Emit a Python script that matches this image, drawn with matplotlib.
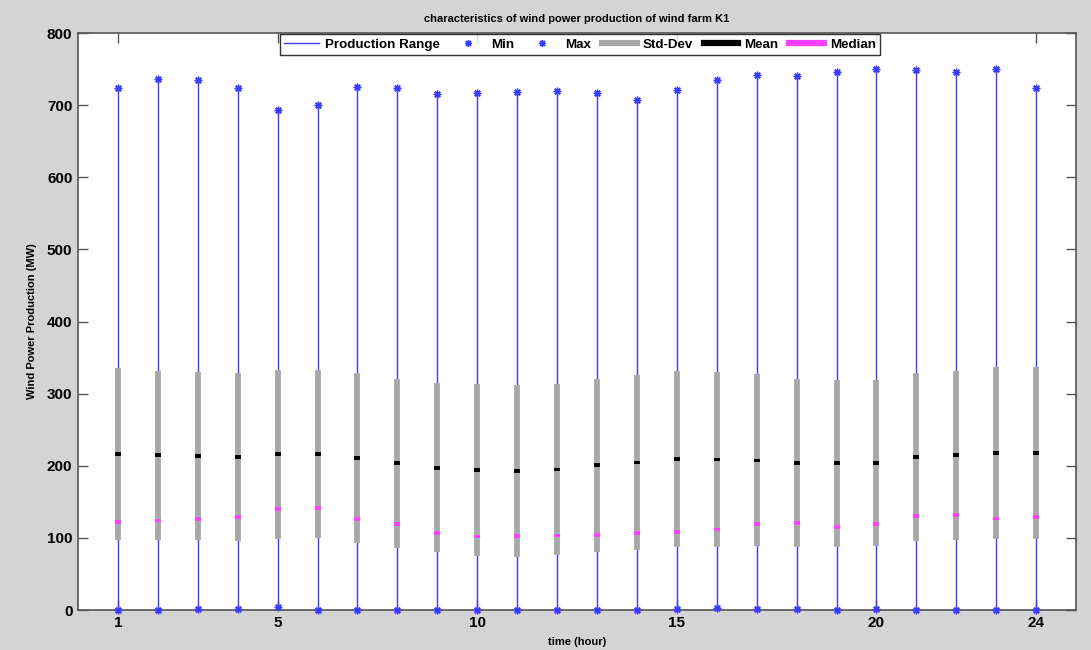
import matplotlib
matplotlib.use("Agg")
import matplotlib.pyplot as plt
from matplotlib.lines import Line2D
import numpy as np

plt.rcParams['font.family'] = ['Liberation Sans', 'DejaVu Sans']

hours = list(range(1, 25))
max_vals = [724, 736, 735, 724, 694, 701, 725, 724, 716, 717, 719, 720,
            717, 707, 721, 735, 742, 740, 746, 750, 749, 746, 750, 724]
min_vals = [0, 0, 2, 2, 4, 0, 0, 0, 0, 0, 0, 0,
            0, 0, 1, 3, 2, 2, 0, 1, 0, 0, 0, 0]
mean_vals = [216, 214.5, 213.5, 212.6, 216, 216, 211, 203.4, 197.4, 194.6, 193.2, 195,
             200.6, 204.7, 209.4, 208.9, 207.5, 203.4, 203.4, 203.4, 211.7, 214.5, 217.3, 217.3]
std_vals = [119, 117, 117, 116.5, 117, 116.3, 117.6, 117, 117.6, 119.2, 119.2, 119,
            119.7, 121.3, 122.6, 121.4, 119.3, 116.5, 115.8, 115.1, 116.5, 117.2, 119.3, 119.3]
median_vals = [122, 124, 126, 128.5, 140, 141, 126, 119.8, 107.3, 102, 102.6, 103.5,
               104, 106.3, 107.8, 111.8, 118.8, 120.2, 115.6, 119.8, 129.9, 131.7, 126.8, 129.4]
xtick_vals = [1, 5, 10, 15, 20, 24]
ytick_vals = list(range(0, 801, 100))

blue = '#3c3cff'
gray = '#a8a8a8'
magenta = '#ff40ff'
bg = '#d4d4d4'
star = (8, 2, 0)

fig = plt.figure(figsize=(10.91, 6.5), dpi=100, facecolor=bg)
ax = fig.add_axes([0.0715, 0.0615, 0.9148, 0.8875])
ax.set_facecolor('white')

x = np.array(hours)
mx = np.array(max_vals)
mn = np.array(min_vals)
me = np.array(mean_vals)
sd = np.array(std_vals)
md = np.array(median_vals)

ax.vlines(x, mn, mx, color=blue, lw=1.0, zorder=2)
ax.plot(x, mn, marker=star, color=blue, ms=5.5, mew=1.0, zorder=6,
        linestyle='none', clip_on=False)
ax.plot(x, mx, marker=star, color=blue, ms=5.5, mew=1.0, zorder=3, linestyle='none')
ax.vlines(x, me - sd, me + sd, color=gray, lw=4.2, zorder=4)
ax.vlines(x, me - 2.6, me + 2.6, color='black', lw=4.2, zorder=5)
ax.vlines(x, md - 2.6, md + 2.6, color=magenta, lw=4.2, zorder=5)

ax.set_xlim(0, 25)
ax.set_ylim(0, 800)
ax.set_xticks(xtick_vals)
ax.set_yticks(ytick_vals)
ax.tick_params(direction='in', length=7, width=1, color='#555555',
               top=True, right=True, labelsize=11, pad=4)
for lab in ax.get_xticklabels() + ax.get_yticklabels():
    lab.set_fontweight('bold')
for sp in ax.spines.values():
    sp.set_color('#555555')
    sp.set_linewidth(1.2)

ax.set_xlabel('time (hour)', fontsize=8, fontweight='bold', labelpad=5)
ax.set_ylabel('Wind Power Production (MW)', fontsize=8, fontweight='bold', labelpad=7)
ax.set_title('characteristics of wind power production of wind farm K1',
             fontsize=8, fontweight='bold', pad=8)

handles = [
    Line2D([], [], color=blue, lw=1),
    Line2D([], [], color=blue, marker=star, ls='none', ms=5, mew=1),
    Line2D([], [], color=blue, marker=star, ls='none', ms=5, mew=1),
    Line2D([], [], color=gray, lw=4.5),
    Line2D([], [], color='black', lw=4.5),
    Line2D([], [], color=magenta, lw=4.5),
]
labels = ['Production Range', 'Min', 'Max', 'Std-Dev', 'Mean', 'Median']
leg = ax.legend(handles, labels, loc='upper center', bbox_to_anchor=(0.503, 1.0),
                ncol=6, frameon=True, fancybox=False, borderaxespad=0.1,
                prop={'weight': 'bold', 'size': 9.6}, handlelength=2.6,
                columnspacing=0.8, handletextpad=0.45, borderpad=0.3)
leg.get_frame().set_edgecolor('black')
leg.get_frame().set_linewidth(1.0)

fig.savefig('out.png', dpi=100, facecolor=bg)
